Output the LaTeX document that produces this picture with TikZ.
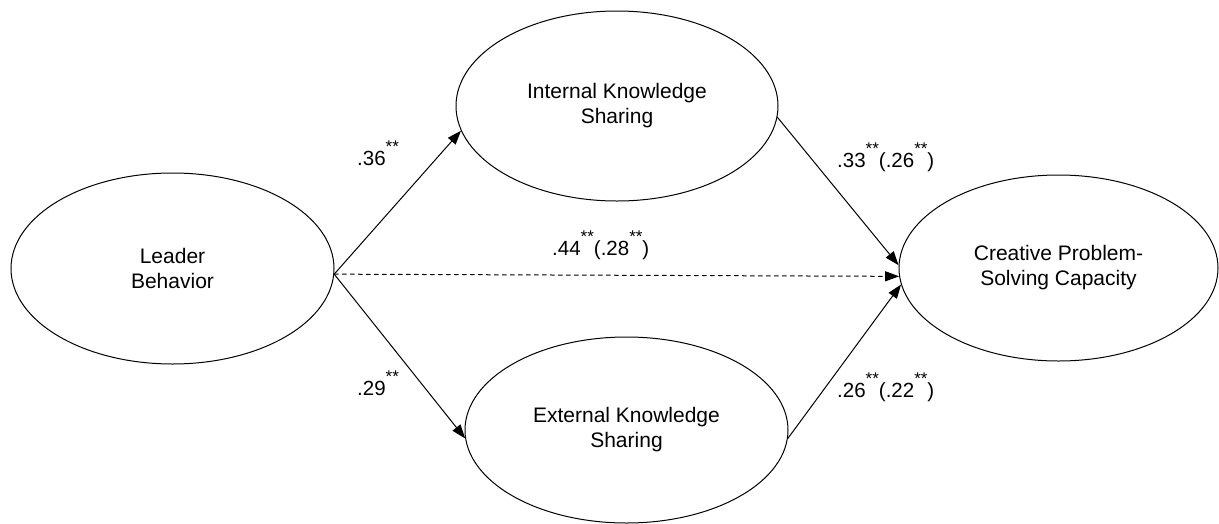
\documentclass[tikz,border=0pt]{standalone}
\usepackage{fontspec}
\setmainfont{Liberation Sans}
\usetikzlibrary{shapes.geometric,arrows.meta}
\newcommand\twostar{\raisebox{13pt}{\fontsize{17}{17}\selectfont **}}
\begin{document}
\begin{tikzpicture}[x=1pt,y=-1pt,
  latent/.style={draw, ellipse, line width=1pt, inner sep=0pt, align=center,
    font=\fontsize{21}{25}\selectfont},
  effect/.style={line width=1pt, -{Triangle[length=14pt,width=10pt]}},
  indirect/.style={effect, dash pattern=on 4.5pt off 3.5pt},
  coef/.style={anchor=base west, inner sep=0pt, font=\fontsize{20.5}{24}\selectfont}]
\useasboundingbox (0,0) rectangle (1219,523);
\node[latent, minimum width=323pt, minimum height=191pt] (lead) at (172.5,268.5) {Leader\\Behavior};
\node[latent, minimum width=322pt, minimum height=190pt] (int) at (617,106) {Internal Knowledge\\Sharing};
\node[latent, minimum width=323pt, minimum height=186pt] (ext) at (626.5,430) {External Knowledge\\Sharing};
\node[latent, minimum width=319pt, minimum height=186pt] (cre) at (1058.5,268) {Creative Problem-\\Solving Capacity};
\draw[effect] (lead.-2.5) -- (int.189);
\draw[effect] (lead.-2.5) -- (ext.183);
\draw[indirect] (lead.-2.5) -- (cre.183);
\draw[effect] (int.-4) -- (cre.179);
\draw[effect] (ext.-3) -- (cre.186);
\node[coef] (c1) at (357,165) {.36\twostar};
\node[coef] (c2) at (357,395) {.29\twostar};
\node[coef] (c3) at (552,255) {.44\twostar(.28\twostar)};
\node[coef] (c4) at (837,167) {.33\twostar(.26\twostar)};
\node[coef] (c5) at (837,397) {.26\twostar(.22\twostar)};
\end{tikzpicture}
\end{document}
